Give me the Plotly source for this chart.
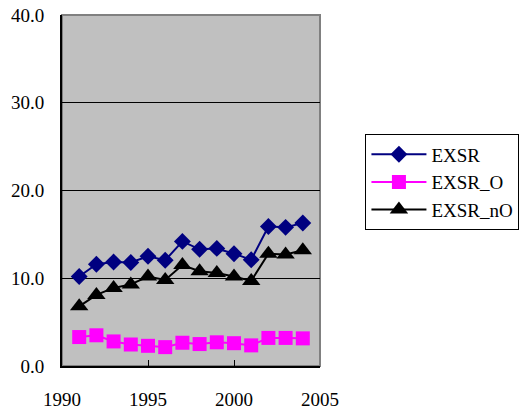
import plotly.graph_objects as go

# Annual export-share series
years = [1991, 1992, 1993, 1994, 1995, 1996, 1997, 1998, 1999, 2000, 2001, 2002, 2003, 2004]
exsr = [10.2, 11.6, 11.85, 11.8, 12.5, 12.05, 14.2, 13.3, 13.4, 12.8, 12.1, 15.9, 15.8, 16.3]
exsr_o = [3.3, 3.5, 2.8, 2.45, 2.3, 2.15, 2.65, 2.5, 2.7, 2.6, 2.35, 3.2, 3.2, 3.15]
exsr_no = [6.8, 8.1, 8.9, 9.3, 10.2, 9.8, 11.5, 10.8, 10.6, 10.2, 9.7, 12.8, 12.7, 13.2]

x_ticks = [1990, 1995, 2000, 2005]
y_ticks = [0, 10, 20, 30, 40]
y_labels = ["0.0", "10.0", "20.0", "30.0", "40.0"]

FONT = "Liberation Serif, Times New Roman, serif"
base_font = dict(family=FONT, size=19, color="#000000")

fig = go.Figure()
fig.add_trace(go.Scatter(
    x=years, y=exsr, name="EXSR", mode="lines+markers",
    line=dict(color="#000080", width=2),
    marker=dict(symbol="diamond", size=13, color="#000080"),
))
fig.add_trace(go.Scatter(
    x=years, y=exsr_o, name="EXSR_O", mode="lines+markers",
    line=dict(color="#FF00FF", width=2),
    marker=dict(symbol="square", size=14, color="#FF00FF"),
))
fig.add_trace(go.Scatter(
    x=years, y=exsr_no, name="EXSR_nO", mode="lines+markers",
    line=dict(color="#000000", width=2),
    marker=dict(symbol="triangle-up", size=16, color="#000000"),
))

fig.update_layout(
    template="none",
    width=531, height=416,
    margin=dict(l=62, r=205, t=15, b=50),
    paper_bgcolor="white",
    plot_bgcolor="#C0C0C0",
    font=base_font,
    showlegend=True,
    legend=dict(
        x=1.773, y=0.66, xanchor="right", yanchor="top",
        bgcolor="white", bordercolor="#000000", borderwidth=1,
        font=base_font,
        itemwidth=55,
        tracegroupgap=0,
    ),
    shapes=[dict(
        type="rect", xref="paper", yref="paper", x0=0, y0=0, x1=1, y1=1,
        line=dict(color="#808080", width=2), layer="below",
    )],
)

fig.update_xaxes(
    range=[1990, 2005], tickvals=x_ticks, ticktext=[str(v) for v in x_ticks],
    tickfont=base_font,
    showgrid=False, zeroline=False,
    showline=True, linecolor="#000000", linewidth=2,
    ticks="inside", ticklen=6, tickcolor="#000000", tickwidth=1,
    ticklabelstandoff=15,
)
fig.update_yaxes(
    range=[0, 40], tickvals=y_ticks, ticktext=y_labels,
    tickfont=base_font,
    showgrid=True, gridcolor="#000000", gridwidth=1,
    zeroline=False,
    showline=True, linecolor="#000000", linewidth=2,
    ticks="inside", ticklen=6, tickcolor="#000000", tickwidth=1,
    ticklabelstandoff=12,
)

fig.write_html("out.html")
